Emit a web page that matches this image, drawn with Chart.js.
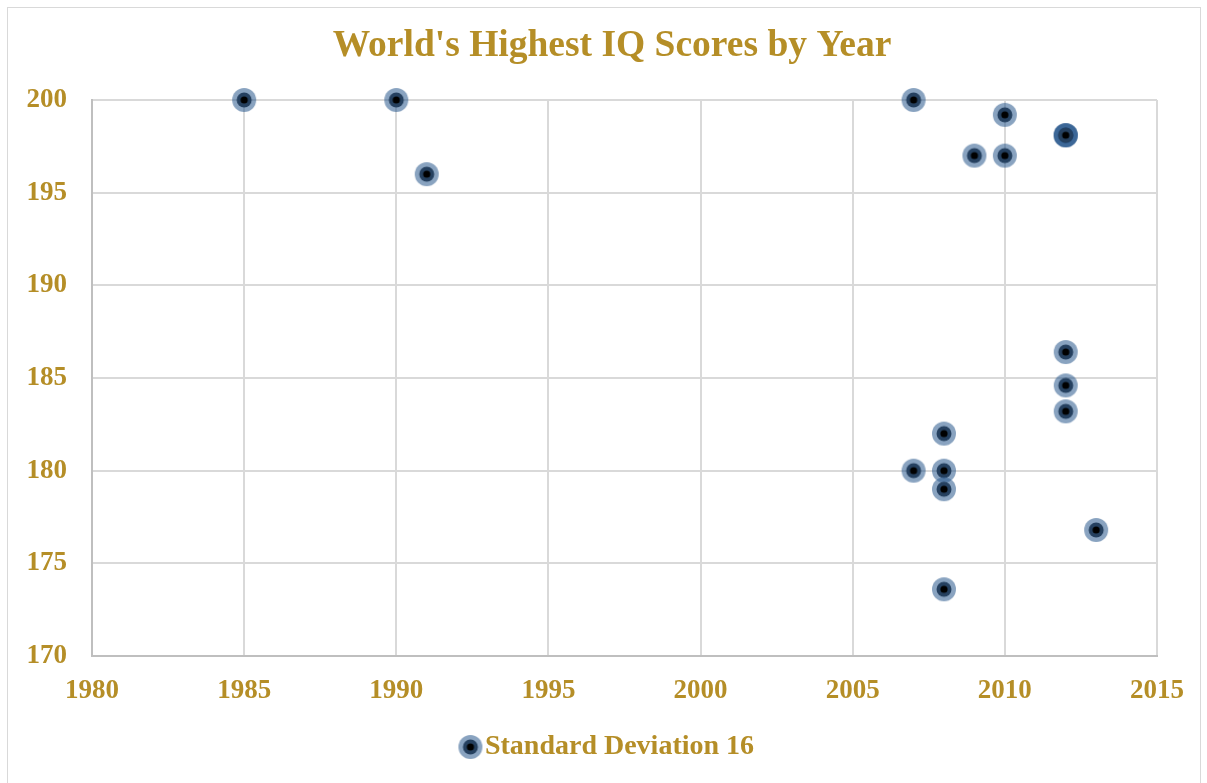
<!DOCTYPE html>
<html>
<head>
<meta charset="utf-8">
<script src="https://cdn.jsdelivr.net/npm/chart.js@4"></script>
<style>
    body { margin: 0; background: #fff; }
    #frame { position: absolute; left: 7px; top: 7px; width: 1192px; height: 790px; border: 1px solid #d9d9d9; }
    #wrap { position: absolute; left: 0; top: 0; width: 1207px; height: 783px; }
</style>
</head>
<body>
<div id="frame"></div>
<div id="wrap"><canvas id="canvas"></canvas></div>
<script>
"use strict"

/* Data */
let years = [1985, 1990, 1991, 2007, 2010, 2012, 2012, 2012, 2009, 2010, 2012, 2012, 2012, 2008, 2007, 2008, 2008, 2013, 2008];
let scores = [200, 200, 196, 200, 199.2, 198.1, 198.1, 198.1, 197, 197, 186.4, 184.6, 183.2, 182, 180, 180, 179, 176.8, 173.6];
let seriesName = "Standard Deviation 16";
let xTicks = [1980, 1985, 1990, 1995, 2000, 2005, 2010, 2015];
let yTicks = [170, 175, 180, 185, 190, 195, 200];


/* Colors */
let gold = "#b58e27";
let gridGray = "#d9d9d9";
let axisGray = "#bfbfbf";
let serif = "'Liberation Serif', 'DejaVu Serif', serif";


function makeMarker() {
    let c = document.createElement("canvas");
    c.width = 26;
    c.height = 26;
    let ctx = c.getContext("2d");
    ctx.beginPath();
    ctx.arc(13, 13, 12, 0, Math.PI * 2);
    ctx.fillStyle = "rgba(40, 88, 140, 0.55)";
    ctx.fill();
    ctx.beginPath();
    ctx.arc(13, 13, 7.5, 0, Math.PI * 2);
    ctx.fillStyle = "#25405f";
    ctx.fill();
    ctx.beginPath();
    ctx.arc(13, 13, 3.6, 0, Math.PI * 2);
    ctx.fillStyle = "#000";
    ctx.fill();
    return c;
}


function createChart() {
    let points = years.map((y, i) => ({ x: y, y: scores[i] }));
    let marker = makeMarker();
    const canvas = document.getElementById("canvas").getContext("2d");
    const myChart = new Chart(canvas, {
        type: "scatter",
        data: {
            datasets: [{
                label: seriesName,
                data: points,
                pointStyle: marker,
                pointRadius: 13,
                pointHoverRadius: 13,
                clip: false
            }]
        },
        options: {
            responsive: true,
            maintainAspectRatio: false,
            animation: false,
            layout: {
                padding: { left: 67, right: 50, top: 0, bottom: 12 }
            },
            scales: {
                x: {
                    type: "linear",
                    min: 1980,
                    max: 2015,
                    afterBuildTicks: axis => { axis.ticks = xTicks.map(v => ({ value: v })); },
                    afterFit: axis => { axis.height = 70; },
                    grid: { color: gridGray, lineWidth: 2, drawTicks: false },
                    border: { color: axisGray, width: 2 },
                    ticks: {
                        padding: 19,
                        color: gold,
                        font: { family: serif, size: 27, weight: "bold" },
                        callback: v => String(v)
                    }
                },
                y: {
                    min: 170,
                    max: 200,
                    afterBuildTicks: axis => { axis.ticks = yTicks.map(v => ({ value: v })); },
                    afterFit: axis => { axis.width = 25; },
                    grid: { color: gridGray, lineWidth: 2, drawTicks: false },
                    border: { color: axisGray, width: 2 },
                    ticks: {
                        // labels sit left of the axis box, mirror keeps them from being clipped
                        mirror: true,
                        crossAlign: "far",
                        padding: -65.5,
                        color: gold,
                        font: { family: serif, size: 27, weight: "bold" },
                        callback: v => String(v)
                    }
                }
            },
            plugins: {
                title: {
                    display: true,
                    text: "World's Highest IQ Scores by Year",
                    color: gold,
                    font: { family: serif, size: 37.5, weight: "bold" },
                    padding: { top: 24, bottom: 31 }
                },
                legend: {
                    position: "bottom",
                    labels: {
                        usePointStyle: true,
                        pointStyleWidth: 1,
                        color: gold,
                        padding: 7,
                        font: { family: serif, size: 28, weight: "bold" }
                    }
                },
                tooltip: { enabled: false }
            }
        }
    });
}

createChart();
</script>
</body>
</html>
